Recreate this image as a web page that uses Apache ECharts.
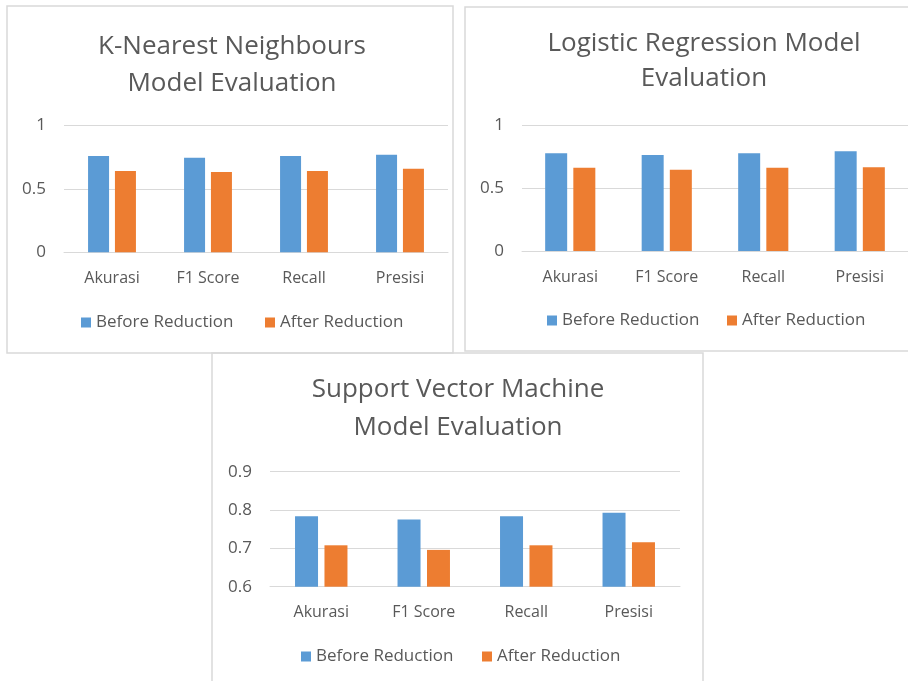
<!DOCTYPE html>
<html><head><meta charset="utf-8">
<script src="https://cdn.jsdelivr.net/npm/echarts@6/dist/echarts.min.js"></script>
<style>html,body{margin:0;padding:0;background:#fff}#c{width:908px;height:681px}</style>
</head><body><div id="c"></div>
<script>
var categories = ['Akurasi', 'F1 Score', 'Recall', 'Presisi'];
var seriesNames = ['Before Reduction', 'After Reduction'];
var knnBefore = [0.758, 0.745, 0.758, 0.769];
var knnAfter = [0.640, 0.632, 0.640, 0.658];
var lrBefore = [0.777, 0.764, 0.777, 0.793];
var lrAfter = [0.663, 0.647, 0.663, 0.666];
var svmBefore = [0.784, 0.775, 0.784, 0.793];
var svmAfter = [0.708, 0.696, 0.708, 0.716];
var ticks12 = [0, 0.5, 1];
var ticks3 = [0.6, 0.7, 0.8, 0.9];
var titles = [['K-Nearest Neighbours', 'Model Evaluation'], ['Logistic Regression Model', 'Evaluation'], ['Support Vector Machine', 'Model Evaluation']];

var FONT = '"Open Sans", Lato, sans-serif';
var TXT = '#595959';
var BLUE = '#5B9BD5', ORANGE = '#ED7D31';
var GRIDC = '#D9D9D9';

var panels = [
  {grid:{left:64, top:125.3, width:384, height:127}, min:0, max:1, interval:0.5, before:knnBefore, after:knnAfter, bw:21,
   title:{x:232, y1:47, y2:84}, leg:{y:309, b:76, a:260}},
  {grid:{left:522, top:125.3, width:396, height:125.7}, min:0, max:1, interval:0.5, before:lrBefore, after:lrAfter, bw:22,
   title:{x:704, y1:44, y2:79}, leg:{y:307, b:542, a:722}},
  {grid:{left:270, top:471.7, width:410, height:115}, min:0.6, max:0.9, interval:0.1, before:svmBefore, after:svmAfter, bw:23,
   title:{x:458, y1:390, y2:428}, leg:{y:643, b:296, a:477}}
];

var option = {
  animation:false,
  backgroundColor:'#fff',
  grid:[], xAxis:[], yAxis:[], series:[], legend:[],
  graphic:[
    {type:'rect', shape:{x:7, y:6, width:446, height:347}, style:{fill:'none', stroke:GRIDC, lineWidth:1.5}, z:-1},
    {type:'rect', shape:{x:465, y:7, width:470, height:344}, style:{fill:'none', stroke:GRIDC, lineWidth:1.5}, z:-1},
    {type:'rect', shape:{x:212, y:353, width:491, height:360}, style:{fill:'none', stroke:GRIDC, lineWidth:1.5}, z:-1}
  ]
};

panels.forEach(function(p, i){
  option.grid.push(Object.assign({containLabel:false}, p.grid));
  option.xAxis.push({type:'category', gridIndex:i, data:categories,
    axisLine:{show:true, lineStyle:{color:GRIDC, width:1}}, axisTick:{show:false},
    axisLabel:{color:TXT, fontSize:16, fontFamily:FONT, margin:18}});
  option.yAxis.push({type:'value', gridIndex:i, min:p.min, max:p.max, interval:p.interval,
    axisLine:{show:false}, axisTick:{show:false},
    splitLine:{lineStyle:{color:GRIDC, width:1}},
    axisLabel:{color:TXT, fontSize:17, fontFamily:FONT, margin:18,
      formatter:function(v){ return String(Math.round(v*10)/10); }}});
  option.series.push({type:'bar', name:seriesNames[0], xAxisIndex:i, yAxisIndex:i, data:p.before,
    barWidth:p.bw, barGap:'28%', itemStyle:{color:BLUE}});
  option.series.push({type:'bar', name:seriesNames[1], xAxisIndex:i, yAxisIndex:i, data:p.after,
    barWidth:p.bw, barGap:'28%', itemStyle:{color:ORANGE}});
  option.legend.push({left:p.leg.b, top:p.leg.y, data:[seriesNames[0]], icon:'rect', itemWidth:10, itemHeight:10,
    textStyle:{color:TXT, fontSize:17, fontFamily:FONT}, selectedMode:false});
  option.legend.push({left:p.leg.a, top:p.leg.y, data:[seriesNames[1]], icon:'rect', itemWidth:10, itemHeight:10,
    textStyle:{color:TXT, fontSize:17, fontFamily:FONT}, selectedMode:false});
  option.graphic.push({type:'text', x:p.title.x, y:p.title.y1, style:{text:titles[i][0], fill:TXT, font:'26px ' + FONT, textAlign:'center', textVerticalAlign:'middle'}});
  option.graphic.push({type:'text', x:p.title.x, y:p.title.y2, style:{text:titles[i][1], fill:TXT, font:'26px ' + FONT, textAlign:'center', textVerticalAlign:'middle'}});
});

var chart = echarts.init(document.getElementById('c'), null, {renderer:'canvas'});
chart.setOption(option);
</script></body></html>
